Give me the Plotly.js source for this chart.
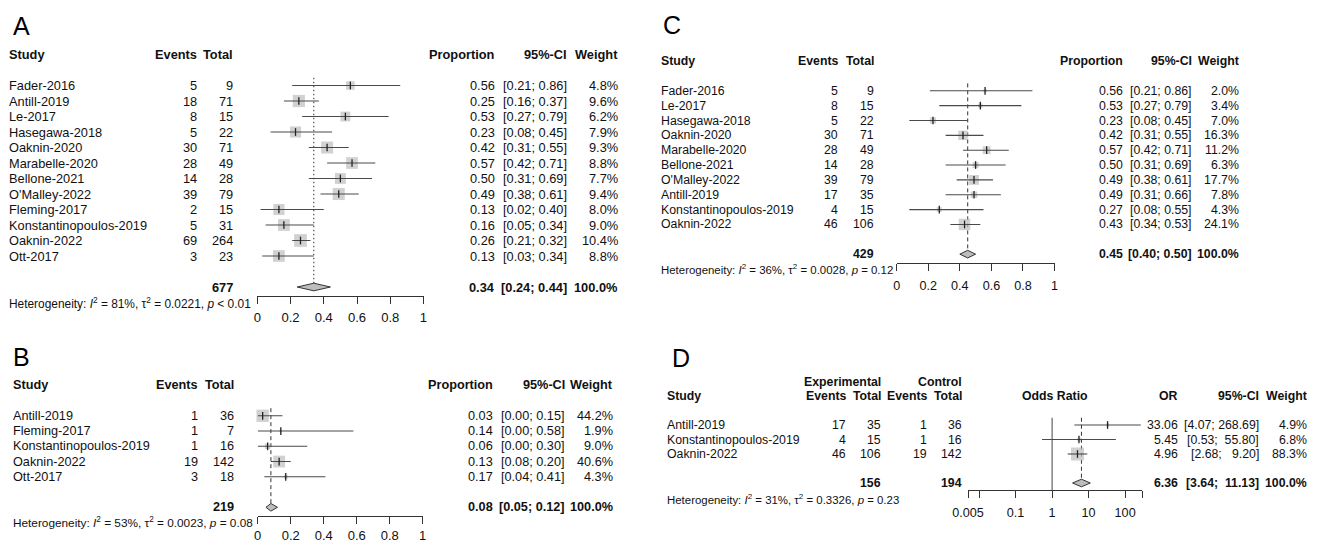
<!DOCTYPE html>
<html>
<head>
<meta charset="utf-8">
<script src="https://cdn.plot.ly/plotly-3.0.1.min.js"></script>
<style>
  html, body { margin: 0; padding: 0; background: #fff; }
  #fig { width: 1320px; height: 545px; }
</style>
</head>
<body>
<div id="fig"></div>
<script>
// ---------- Panel A: single-arm proportions, all studies ----------
const studiesA = ['Fader-2016', 'Antill-2019', 'Le-2017', 'Hasegawa-2018', 'Oaknin-2020', 'Marabelle-2020',
  'Bellone-2021', "O'Malley-2022", 'Fleming-2017', 'Konstantinopoulos-2019', 'Oaknin-2022', 'Ott-2017'];
const eventsA = [5, 18, 8, 5, 30, 28, 14, 39, 2, 5, 69, 3];
const totalA = [9, 71, 15, 22, 71, 49, 28, 79, 15, 31, 264, 23];
const propA = [0.56, 0.25, 0.53, 0.23, 0.42, 0.57, 0.50, 0.49, 0.13, 0.16, 0.26, 0.13];
const lowerA = [0.21, 0.16, 0.27, 0.08, 0.31, 0.42, 0.31, 0.38, 0.02, 0.05, 0.21, 0.03];
const upperA = [0.86, 0.37, 0.79, 0.45, 0.55, 0.71, 0.69, 0.61, 0.40, 0.34, 0.32, 0.34];
const weightA = [4.8, 9.6, 6.2, 7.9, 9.3, 8.8, 7.7, 9.4, 8.0, 9.0, 10.4, 8.8];
const pooledA = [0.34, 0.24, 0.44];          // estimate, lower, upper
const sumTotalA = 677;
const hetA = ['81%', '0.0221', '&lt; 0.01'];  // I2, tau2, p

// ---------- Panel B ----------
const studiesB = ['Antill-2019', 'Fleming-2017', 'Konstantinopoulos-2019', 'Oaknin-2022', 'Ott-2017'];
const eventsB = [1, 1, 1, 19, 3];
const totalB = [36, 7, 16, 142, 18];
const propB = [0.03, 0.14, 0.06, 0.13, 0.17];
const lowerB = [0.00, 0.00, 0.00, 0.08, 0.04];
const upperB = [0.15, 0.58, 0.30, 0.20, 0.41];
const weightB = [44.2, 1.9, 9.0, 40.6, 4.3];
const pooledB = [0.08, 0.05, 0.12];
const sumTotalB = 219;
const hetB = ['53%', '0.0023', '= 0.08'];

// ---------- Panel C ----------
const studiesC = ['Fader-2016', 'Le-2017', 'Hasegawa-2018', 'Oaknin-2020', 'Marabelle-2020', 'Bellone-2021',
  "O'Malley-2022", 'Antill-2019', 'Konstantinopoulos-2019', 'Oaknin-2022'];
const eventsC = [5, 8, 5, 30, 28, 14, 39, 17, 4, 46];
const totalC = [9, 15, 22, 71, 49, 28, 79, 35, 15, 106];
const propC = [0.56, 0.53, 0.23, 0.42, 0.57, 0.50, 0.49, 0.49, 0.27, 0.43];
const lowerC = [0.21, 0.27, 0.08, 0.31, 0.42, 0.31, 0.38, 0.31, 0.08, 0.34];
const upperC = [0.86, 0.79, 0.45, 0.55, 0.71, 0.69, 0.61, 0.66, 0.55, 0.53];
const weightC = [2.0, 3.4, 7.0, 16.3, 11.2, 6.3, 17.7, 7.8, 4.3, 24.1];
const pooledC = [0.45, 0.40, 0.50];
const sumTotalC = 429;
const hetC = ['36%', '0.0028', '= 0.12'];

// ---------- Panel D: odds ratios, experimental vs control ----------
const studiesD = ['Antill-2019', 'Konstantinopoulos-2019', 'Oaknin-2022'];
const expEventsD = [17, 4, 46];
const expTotalD = [35, 15, 106];
const ctrlEventsD = [1, 1, 19];
const ctrlTotalD = [36, 16, 142];
const orD = [33.06, 5.45, 4.96];
const lowerD = [4.07, 0.53, 2.68];
const upperD = [268.69, 55.80, 9.20];
const weightD = [4.9, 6.8, 88.3];
const pooledD = [6.36, 3.64, 11.13];
const sumExpD = 156;
const sumCtrlD = 194;
const hetD = ['31%', '0.3326', '= 0.23'];

// axis ticks
const propTicks = [0, 0.2, 0.4, 0.6, 0.8, 1];
const propTickText = ['0', '0.2', '0.4', '0.6', '0.8', '1'];
const orTicks = [0.005, 0.1, 1, 10, 100];
const orTickText = ['0.005', '0.1', '1', '10', '100'];
const orMinorTicks = [0.01, 290];

// ---------- drawing ----------
const W = 1320, H = 545;
const FONT = 'Liberation Sans, Arial, Helvetica, sans-serif';
const TXT = '#111';
const NB = '\u00A0';
const HET_SCALE = 0.93;   // heterogeneity line is set slightly tighter

const traces = [], annotations = [], shapes = [], layoutAxes = {};

function txt(yref, xpx, row, text, anchor, size, bold) {
  annotations.push({
    xref: 'paper', yref: yref, x: xpx / W, y: row,
    text: bold ? '<b>' + text + '</b>' : text,
    xanchor: anchor, yanchor: 'middle', showarrow: false,
    borderpad: 0, borderwidth: 0,
    font: { family: FONT, size: size, color: TXT }
  });
}

function letter(xpx, ypx, t) {
  annotations.push({
    xref: 'paper', yref: 'paper', x: xpx / W, y: 1 - ypx / H,
    text: t, xanchor: 'left', yanchor: 'middle', showarrow: false,
    borderpad: 0, borderwidth: 0,
    font: { family: FONT, size: 25, color: '#000' }
  });
}

function hetText(h) {
  return 'Heterogeneity: <i>I</i><sup>2</sup> = ' + h[0] + ', \u03C4<sup>2</sup> = ' + h[1] +
    ', <i>p</i> ' + h[2];
}

function pad(s, n) { while (s.length < n) s = NB + s; return s; }
function ciText(lo, hi, dec, width) {
  let h = hi.toFixed(dec);
  if (width) h = pad(h, width);
  return '[' + lo.toFixed(dec) + ';' + NB + h + ']';
}

// generic forest panel
function forest(cfg, d) {
  const k = cfg.k;
  const xa = 'x' + (k === 1 ? '' : k), ya = 'y' + (k === 1 ? '' : k);
  const n = d.est.length;
  const rows = d.est.map((_, i) => i);
  const sumRow = n + 1;

  // axes
  const topPx = cfg.p0 + cfg.rowTop * cfg.s, botPx = cfg.p0 + cfg.rowBot * cfg.s;
  const xaxis = {
    domain: [cfg.x0 / W, cfg.x1 / W], range: cfg.range, type: cfg.log ? 'log' : 'linear',
    anchor: 'free', position: 1 - cfg.axisPx / H,
    showgrid: false, zeroline: false, showline: true, linecolor: '#333', linewidth: 1,
    ticks: 'outside', ticklen: 7, tickwidth: 1, tickcolor: '#333',
    tickmode: 'array', tickvals: cfg.tickvals, ticktext: cfg.ticktext,
    tickfont: { family: FONT, size: cfg.font + 0.3, color: TXT },
    ticklabelstandoff: cfg.standoff, fixedrange: true
  };
  if (cfg.minor) {
    xaxis.minor = { tickmode: 'array', tickvals: cfg.minor, ticks: 'outside', ticklen: 7,
      tickwidth: 1, tickcolor: '#333', showgrid: false };
  }
  layoutAxes['xaxis' + (k === 1 ? '' : k)] = xaxis;
  layoutAxes['yaxis' + (k === 1 ? '' : k)] = {
    domain: [1 - botPx / H, 1 - topPx / H], range: [cfg.rowBot, cfg.rowTop],
    visible: false, anchor: 'free', position: 0, fixedrange: true
  };

  // reference lines (drawn underneath the marks)
  if (cfg.nullLine !== undefined) {
    shapes.push({ type: 'line', xref: xa, yref: ya, x0: cfg.nullLine, x1: cfg.nullLine,
      y0: -0.5, y1: (cfg.axisPx - cfg.p0) / cfg.s, layer: 'below',
      line: { color: '#444', width: 1 } });
  }
  shapes.push({ type: 'line', xref: xa, yref: ya, x0: d.pooled[0], x1: d.pooled[0],
    y0: -0.5, y1: sumRow, layer: 'below',
    line: { color: '#333', width: 1, dash: cfg.dash } });

  // weight boxes
  const wmax = Math.max(...d.weight);
  traces.push({
    type: 'scatter', mode: 'markers', xaxis: xa, yaxis: ya, cliponaxis: false, hoverinfo: 'skip',
    x: d.est, y: rows,
    marker: { symbol: 'square', color: '#bdbdbd', line: { width: 0 },
      size: d.weight.map(w => cfg.box * Math.sqrt(w / wmax)) }
  });
  // confidence intervals
  const cx = [], cy = [];
  d.lo.forEach((lo, i) => { cx.push(lo, d.hi[i], null); cy.push(i, i, null); });
  traces.push({
    type: 'scatter', mode: 'lines', xaxis: xa, yaxis: ya, cliponaxis: false, hoverinfo: 'skip',
    x: cx, y: cy, line: { color: '#4a4a4a', width: 1.1 }
  });
  // point estimates
  traces.push({
    type: 'scatter', mode: 'markers', xaxis: xa, yaxis: ya, cliponaxis: false, hoverinfo: 'skip',
    x: d.est, y: rows,
    marker: { symbol: 'line-ns', size: 5.5, line: { color: '#222', width: 1.3 } }
  });
  // pooled diamond
  const h = 3.8 / cfg.s;
  const p = d.pooled;
  traces.push({
    type: 'scatter', mode: 'lines', xaxis: xa, yaxis: ya, cliponaxis: false, hoverinfo: 'skip',
    x: [p[1], p[0], p[2], p[0], p[1]], y: [sumRow, sumRow - h, sumRow, sumRow + h, sumRow],
    fill: 'toself', fillcolor: '#bdbdbd', line: { color: '#333', width: 1 }
  });
  return { ya: ya, n: n, sumRow: sumRow };
}

// ---- panels A, B, C (proportions) ----
function propPanel(cfg, d) {
  const r = forest(cfg, d);
  const f = cfg.font, ya = r.ya, c = cfg.cols;
  txt(ya, c.study, -2, 'Study', 'left', f, true);
  txt(ya, c.events, -2, 'Events', 'right', f, true);
  txt(ya, c.total, -2, 'Total', 'right', f, true);
  txt(ya, c.prop, -2, 'Proportion', 'right', f, true);
  txt(ya, c.ci, -2, '95%-CI', 'right', f, true);
  txt(ya, c.weight, -2, 'Weight', 'right', f, true);
  d.names.forEach((nm, i) => {
    txt(ya, c.study, i, nm, 'left', f);
    txt(ya, c.events, i, String(d.events[i]), 'right', f);
    txt(ya, c.total, i, String(d.total[i]), 'right', f);
    txt(ya, c.prop, i, d.est[i].toFixed(2), 'right', f);
    txt(ya, c.ci, i, ciText(d.lo[i], d.hi[i], 2), 'right', f);
    txt(ya, c.weight, i, d.weight[i].toFixed(1) + '%', 'right', f);
  });
  txt(ya, c.total, r.sumRow, String(d.sumTotal), 'right', f, true);
  txt(ya, c.prop, r.sumRow, d.pooled[0].toFixed(2), 'right', f, true);
  txt(ya, c.ci, r.sumRow, ciText(d.pooled[1], d.pooled[2], 2), 'right', f, true);
  txt(ya, c.weight, r.sumRow, '100.0%', 'right', f, true);
  txt(ya, c.study, r.sumRow + 1, hetText(d.het), 'left', f * HET_SCALE);
}

propPanel({
  k: 1, p0: 85.5, s: 15.5, rowTop: -3, rowBot: 15, axisPx: 295.5,
  x0: 257.3, x1: 423.5, range: [0, 1], tickvals: propTicks, ticktext: propTickText,
  font: 12.8, standoff: 3, box: 12.7, dash: '1.5px,2.5px',
  cols: { study: 9, events: 197, total: 233, prop: 495, ci: 567, weight: 618 }
}, { names: studiesA, events: eventsA, total: totalA, est: propA, lo: lowerA, hi: upperA,
     weight: weightA, pooled: pooledA, sumTotal: sumTotalA, het: hetA });

propPanel({
  k: 2, p0: 415.8, s: 15.25, rowTop: -3, rowBot: 8, axisPx: 516.2,
  x0: 257.7, x1: 422.7, range: [0, 1], tickvals: propTicks, ticktext: propTickText,
  font: 12.7, standoff: 1.5, box: 12.3, dash: '4px,3px',
  cols: { study: 13.3, events: 198, total: 234, prop: 492.7, ci: 565, weight: 613.3 }
}, { names: studiesB, events: eventsB, total: totalB, est: propB, lo: lowerB, hi: upperB,
     weight: weightB, pooled: pooledB, sumTotal: sumTotalB, het: hetB });

propPanel({
  k: 3, p0: 90.8, s: 14.85, rowTop: -3, rowBot: 13, axisPx: 262.7,
  x0: 896.7, x1: 1054.5, range: [0, 1], tickvals: propTicks, ticktext: propTickText,
  font: 12.3, standoff: 4, box: 11.5, dash: '4px,3px',
  cols: { study: 661, events: 838.3, total: 874, prop: 1122.5, ci: 1192.3, weight: 1239 }
}, { names: studiesC, events: eventsC, total: totalC, est: propC, lo: lowerC, hi: upperC,
     weight: weightC, pooled: pooledC, sumTotal: sumTotalC, het: hetC });

// ---- panel D (odds ratios, log scale) ----
(function () {
  const cfg = {
    k: 4, p0: 425, s: 14.5, rowTop: -4, rowBot: 6, axisPx: 490,
    x0: 968.1, x1: 1142, range: [Math.log10(0.005), Math.log10(290)], log: true,
    tickvals: orTicks, ticktext: orTickText, minor: orMinorTicks,
    font: 12.3, standoff: 4, box: 13, dash: '4px,3px', nullLine: 1
  };
  const d = { est: orD, lo: lowerD, hi: upperD, weight: weightD, pooled: pooledD };
  const r = forest(cfg, d);
  const f = cfg.font, ya = r.ya;
  const c = { study: 667.3, ee: 845.7, et: 880.7, ce: 926.7, ct: 962.3, or: 1178.3, ci: 1259.3, weight: 1306.7 };
  txt(ya, c.et, -3, 'Experimental', 'right', f, true);
  txt(ya, c.ct, -3, 'Control', 'right', f, true);
  txt(ya, c.study, -2, 'Study', 'left', f, true);
  txt(ya, c.ee, -2, 'Events', 'right', f, true);
  txt(ya, c.et, -2, 'Total', 'right', f, true);
  txt(ya, c.ce, -2, 'Events', 'right', f, true);
  txt(ya, c.ct, -2, 'Total', 'right', f, true);
  txt(ya, (cfg.x0 + cfg.x1) / 2, -2, 'Odds Ratio', 'center', f, true);
  txt(ya, c.or, -2, 'OR', 'right', f, true);
  txt(ya, c.ci, -2, '95%-CI', 'right', f, true);
  txt(ya, c.weight, -2, 'Weight', 'right', f, true);
  studiesD.forEach((nm, i) => {
    txt(ya, c.study, i, nm, 'left', f);
    txt(ya, c.ee, i, String(expEventsD[i]), 'right', f);
    txt(ya, c.et, i, String(expTotalD[i]), 'right', f);
    txt(ya, c.ce, i, String(ctrlEventsD[i]), 'right', f);
    txt(ya, c.ct, i, String(ctrlTotalD[i]), 'right', f);
    txt(ya, c.or, i, orD[i].toFixed(2), 'right', f);
    txt(ya, c.ci, i, ciText(lowerD[i], upperD[i], 2, 6), 'right', f);
    txt(ya, c.weight, i, weightD[i].toFixed(1) + '%', 'right', f);
  });
  txt(ya, c.et, r.sumRow, String(sumExpD), 'right', f, true);
  txt(ya, c.ct, r.sumRow, String(sumCtrlD), 'right', f, true);
  txt(ya, c.or, r.sumRow, pooledD[0].toFixed(2), 'right', f, true);
  txt(ya, c.ci, r.sumRow, ciText(pooledD[1], pooledD[2], 2, 6), 'right', f, true);
  txt(ya, c.weight, r.sumRow, '100.0%', 'right', f, true);
  txt(ya, c.study, r.sumRow + 1.1, hetText(hetD), 'left', f * HET_SCALE);
})();

// panel letters
letter(13, 26, 'A');
letter(13, 357, 'B');
letter(663, 25, 'C');
letter(672, 358, 'D');

const layout = Object.assign({
  width: W, height: H,
  margin: { l: 0, r: 0, t: 0, b: 0, pad: 0 },
  paper_bgcolor: '#fff', plot_bgcolor: 'rgba(0,0,0,0)',
  showlegend: false,
  font: { family: FONT, color: TXT },
  annotations: annotations, shapes: shapes
}, layoutAxes);

Plotly.newPlot('fig', traces, layout, { staticPlot: true, displayModeBar: false });
</script>
</body>
</html>
